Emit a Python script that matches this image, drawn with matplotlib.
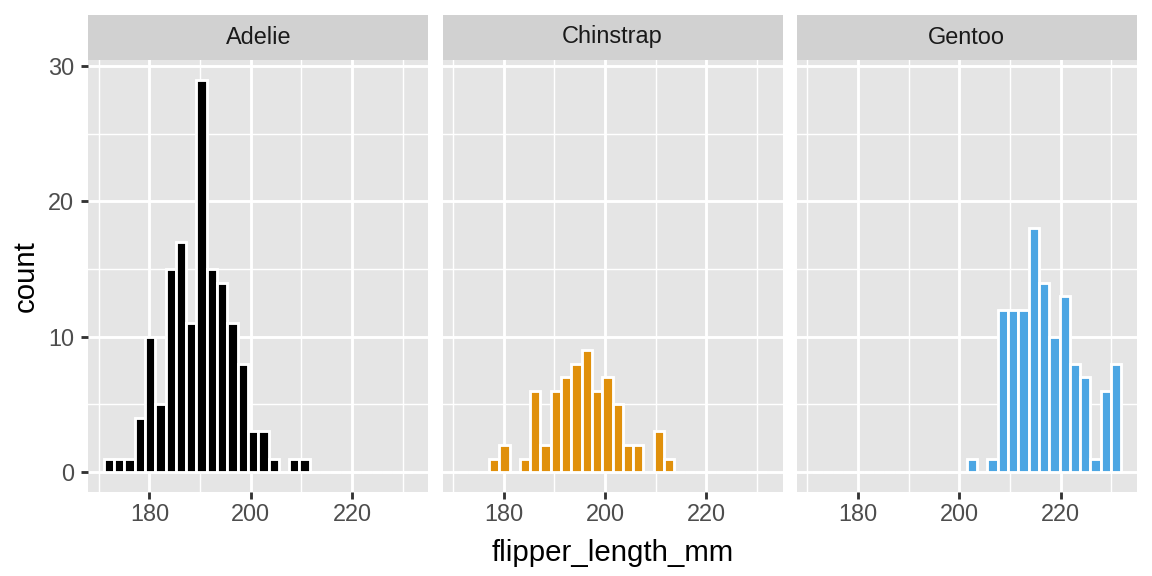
import numpy as np
import matplotlib
matplotlib.use("Agg")
import matplotlib.pyplot as plt

# penguins flipper length histogram, 30 bins over the shared range
species = ["Adelie", "Chinstrap", "Gentoo"]
colors = ["#000000", "#E0900B", "#4CA6E3"]
flipper_min, flipper_max, n_bins = 172, 231, 30

adelie_counts = [1, 1, 1, 4, 10, 5, 15, 17, 11, 29, 15, 14, 11, 8, 3,
                 3, 1, 0, 1, 1, 0, 0, 0, 0, 0, 0, 0, 0, 0, 0]
chinstrap_counts = [0, 0, 0, 1, 2, 0, 1, 6, 2, 6, 7, 8, 9, 6, 7,
                    5, 2, 2, 0, 3, 1, 0, 0, 0, 0, 0, 0, 0, 0, 0]
gentoo_counts = [0, 0, 0, 0, 0, 0, 0, 0, 0, 0, 0, 0, 0, 0, 0,
                 1, 0, 1, 12, 12, 12, 18, 14, 10, 13, 8, 7, 1, 6, 8]
counts = [adelie_counts, chinstrap_counts, gentoo_counts]

x_ticks = [180, 200, 220]
x_minor = [170, 190, 210, 230]
y_ticks = [0, 10, 20, 30]
y_minor = [5, 15, 25]

binw = (flipper_max - flipper_min) / (n_bins - 1)
centers = flipper_min + binw * np.arange(n_bins)
lo, hi = centers[0] - binw / 2, centers[-1] + binw / 2
xpad = 0.05 * (hi - lo)
ymax = max(max(c) for c in counts)

PANEL = "#E5E5E5"
STRIP = "#D1D1D1"
lw_major = 1.07

fig = plt.figure(figsize=(6, 3), dpi=192)
plt.rcParams["font.family"] = ["Liberation Sans", "DejaVu Sans"]

W, H = 1152, 576
lefts = [88.3, 442.6, 796.9]
pw = 339.9
p_top, p_bot = 60.0, 491.7
s_top = 15.0

for i, (sp, col, cnt) in enumerate(zip(species, colors, counts)):
    ax = fig.add_axes([lefts[i] / W, 1 - p_bot / H, pw / W, (p_bot - p_top) / H])
    ax.set_facecolor(PANEL)
    for s in ax.spines.values():
        s.set_visible(False)
    for v in x_minor:
        ax.axvline(v, color="white", lw=lw_major / 2, zorder=0.5)
    for v in y_minor:
        ax.axhline(v, color="white", lw=lw_major / 2, zorder=0.5)
    for v in x_ticks:
        ax.axvline(v, color="white", lw=lw_major, zorder=0.6)
    for v in y_ticks:
        ax.axhline(v, color="white", lw=lw_major, zorder=0.6)
    ax.bar(centers, cnt, width=binw, color=col, edgecolor="white",
           linewidth=lw_major, zorder=2)
    ax.set_xlim(lo - xpad, hi + xpad)
    ax.set_ylim(-0.05 * ymax, ymax * 1.05)
    ax.set_xticks(x_ticks)
    ax.set_yticks(y_ticks)
    ax.tick_params(axis="both", length=2.75, width=lw_major, color="#333333",
                   labelsize=8.8, labelcolor="#4D4D4D")
    ax.tick_params(axis="x", pad=1.6)
    ax.tick_params(axis="y", pad=2.6)
    if i > 0:
        ax.tick_params(axis="y", left=False, labelleft=False)

    sax = fig.add_axes([lefts[i] / W, 1 - p_top / H + 0.5 / H, pw / W, (p_top - s_top) / H])
    sax.set_facecolor(STRIP)
    sax.set_xticks([])
    sax.set_yticks([])
    for s in sax.spines.values():
        s.set_visible(False)
    sax.text(0.5, 0.5, sp, ha="center", va="center", fontsize=8.8,
             color="#1A1A1A", transform=sax.transAxes)

fig.text((lefts[0] + lefts[2] + pw) / 2 / W, 1 - 561 / H, "flipper_length_mm",
         ha="center", va="baseline", fontsize=11)
fig.text(26 / W, 1 - (p_top + p_bot) / 2 / H, "count", rotation=90,
         ha="center", va="center", fontsize=11)

fig.savefig("out.png", dpi=192)
